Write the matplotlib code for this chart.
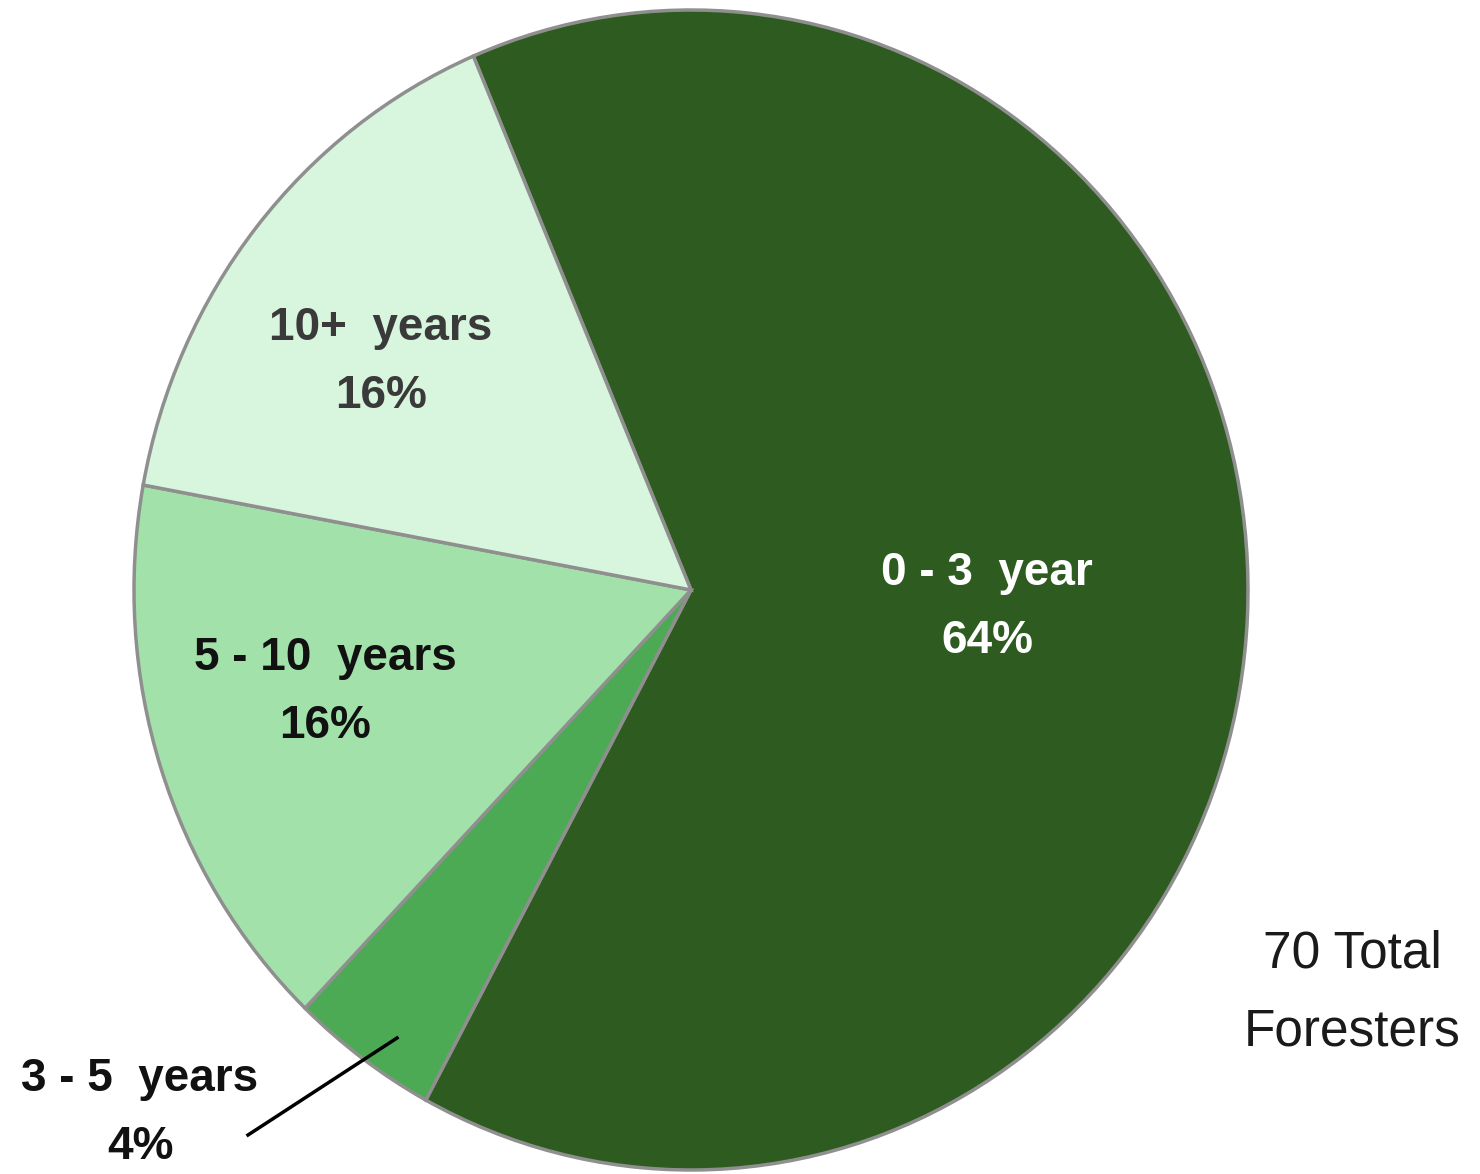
import matplotlib.pyplot as plt

categories = ['0 - 3  year', '3 - 5  years', '5 - 10  years', '10+  years']
counts = [45, 3, 11, 11]
percents = ['64%', '4%', '16%', '16%']
colors = ['#2e5b1f', '#4caa55', '#a2e2aa', '#d8f6dd']
total_text = '70 Total\nForesters'

W, H = 1480, 1174


def px(x, y):
    # pixel (top-left origin) -> figure fraction
    return x / W, 1 - y / H


fig = plt.figure(figsize=(W / 100, H / 100), dpi=100)
cx, cy, rx, ry = 691, 590, 557, 580
ax = fig.add_axes([(cx - rx) / W, (H - cy - ry) / H, 2 * rx / W, 2 * ry / H])

wedges, _ = ax.pie(counts, colors=colors, startangle=113, counterclock=False,
                   radius=1.0,
                   wedgeprops=dict(edgecolor='#8f8f8f', linewidth=2.5))
ax.set_aspect('auto')
ax.set_xlim(-1, 1)
ax.set_ylim(-1, 1)
ax.axis('off')

label_pos = [(987, 607), (140, 1113), (325, 692), (381, 362)]
label_col = ['white', '#111111', '#111111', '#3a3a3a']
for name, pct, (x, y), c in zip(categories, percents, label_pos, label_col):
    fig.text(*px(x, y), f'{name}\n{pct}', ha='center', va='center',
             fontsize=33, fontweight='bold', color=c, linespacing=1.72,
             family='Liberation Sans')

# leader line for the small slice
fig.add_artist(plt.Line2D([248 / W, 397 / W], [1 - 1135 / H, 1 - 1038 / H],
                          color='black', linewidth=2.5))

fig.text(*px(1352, 993), total_text, ha='center', va='center', fontsize=37,
         color='#1a1a1a', linespacing=1.75, family='Liberation Sans')

fig.savefig('out.png', dpi=100)
